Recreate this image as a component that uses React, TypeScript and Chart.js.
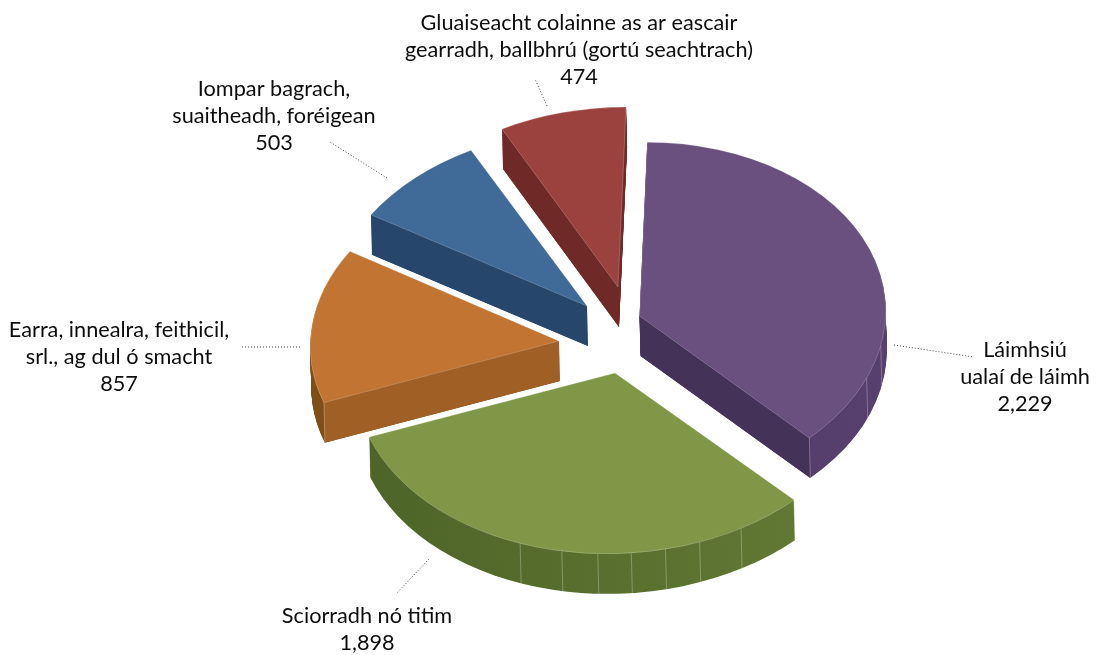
import React, { useEffect, useRef } from "react";
import { Chart, registerables } from "chart.js";

Chart.register(...registerables);

const categories = [
  ["Láimhsiú", "ualaí de láimh"],
  ["Sciorradh nó titim"],
  ["Earra, innealra, feithicil,", "srl., ag dul ó smacht"],
  ["Iompar bagrach,", "suaitheadh, foréigean"],
  ["Gluaiseacht colainne as ar eascair", "gearradh, ballbhrú (gortú seachtrach)"],
];
const values = [2229, 1898, 857, 503, 474];
const topColors = ["#69507F", "#7F9747", "#C27532", "#406A97", "#9B423F"];
const radialColors = ["#443259", "#4F6629", "#A05F24", "#27466B", "#6F2A27"];
const rimLeftColors = ["#4F3A64", "#4D6428", "#7F4D16", "#27466B", "#7A2E2B"];
const rimRightColors = ["#573F6E", "#657B36", "#8A5518", "#27466B", "#7A2E2B"];

const explodeX = [91, 66.5, 10.5, 38.5, 69.5];
const explodeY = [-11.5, 45.5, 13.5, -21.5, -40.5];
const sliceScale = [0.985, 1.04, 0.995, 1.028, 1.028];
const sliceFlatten = [0.705, 0.695, 0.7, 0.69, 0.7];
const SHEAR = -0.022;
const drawOrder = [3, 4, 2, 0, 1];
const facetDegrees = [
  [101.5, 112.7, 136.4],
  [151, 161, 168.8, 176.4, 183.8, 191.8, 201.4],
  [250.9],
  [],
  [],
];
const DEPTH = 40;
const DEPTH_DX = 1;
const ROTATION = 1.8;

const labelCenterX = [1025, 367, 119, 274, 579];
const labelFirstBaseline = [357, 623, 337, 96, 30];
const leaderLines = [
  [894, 345, 974, 357],
  [429, 559, 396, 594],
  [300, 347, 240, 347],
  [387, 178, 330, 142],
  [547, 106, 535, 79],
];
const FONT = '21.7px Lato, "Noto Sans", sans-serif';
const LINE_HEIGHT = 26.8;

const pie3d = {
  id: "pie3d",
  beforeDatasetsDraw(chart: any) {
    const ctx: CanvasRenderingContext2D = chart.ctx;
    const arcs = chart.getDatasetMeta(0).data;
    drawOrder.forEach((i) => {
      const arc = arcs[i];
      const s = sliceScale[i];
      const k = sliceFlatten[i];
      const ax = arc.x + explodeX[i];
      const ay = arc.y + explodeY[i];
      const R = arc.outerRadius;
      const pt = (a: number) => {
        const ux = s * R * Math.cos(a);
        return [ax + ux, ay + SHEAR * ux + s * k * R * Math.sin(a)];
      };
      const orig = arc.options;
      const place = (ox: number, oy: number) => {
        ctx.translate(ax + ox, ay + oy);
        ctx.transform(1, SHEAR, 0, 1, 0, 0);
        ctx.scale(s, s * k);
        ctx.translate(-arc.x, -arc.y);
      };
      // rim: the slice repeated downwards
      const grad = ctx.createLinearGradient(arc.x - R, 0, arc.x + R, 0);
      grad.addColorStop(0, rimLeftColors[i]);
      grad.addColorStop(1, rimRightColors[i]);
      arc.options = { ...orig, backgroundColor: grad, borderWidth: 0 };
      for (let d = DEPTH; d >= 1; d--) {
        ctx.save();
        place((DEPTH_DX * d) / DEPTH, d);
        arc.draw(ctx);
        ctx.restore();
      }
      arc.options = orig;
      // radial faces facing the viewer
      const face = (a: number) => {
        const [px, py] = pt(a);
        ctx.beginPath();
        ctx.moveTo(ax, ay);
        ctx.lineTo(px, py);
        ctx.lineTo(px + DEPTH_DX, py + DEPTH);
        ctx.lineTo(ax + DEPTH_DX, ay + DEPTH);
        ctx.closePath();
        ctx.fillStyle = radialColors[i];
        ctx.fill();
      };
      if (Math.cos(arc.startAngle) < 0) face(arc.startAngle);
      if (Math.cos(arc.endAngle) > 0) face(arc.endAngle);
      // rim facet lines
      ctx.strokeStyle = "rgba(255,255,255,0.28)";
      ctx.lineWidth = 1;
      facetDegrees[i].forEach((deg) => {
        const [px, py] = pt(((deg - 90) * Math.PI) / 180);
        ctx.beginPath();
        ctx.moveTo(px, py);
        ctx.lineTo(px + DEPTH_DX, py + DEPTH);
        ctx.stroke();
      });
      // top face
      ctx.save();
      place(0, 0);
      arc.draw(ctx);
      ctx.restore();
    });
    return false;
  },
  afterDraw(chart: any) {
    const ctx: CanvasRenderingContext2D = chart.ctx;
    ctx.save();
    leaderLines.forEach(([x0, y0, x1, y1]) => {
      ctx.beginPath();
      ctx.setLineDash([1, 2]);
      ctx.lineWidth = 1;
      ctx.strokeStyle = "#444444";
      ctx.moveTo(x0, y0);
      ctx.lineTo(x1, y1);
      ctx.stroke();
    });
    ctx.setLineDash([]);
    ctx.font = FONT;
    ctx.fillStyle = "#0d0d0d";
    ctx.textAlign = "center";
    ctx.textBaseline = "alphabetic";
    categories.forEach((lines, i) => {
      [...lines, values[i].toLocaleString("en-US")].forEach((t, j) => {
        ctx.fillText(t, labelCenterX[i], labelFirstBaseline[i] + j * LINE_HEIGHT);
      });
    });
    ctx.restore();
  },
};

export default function App() {
  const ref = useRef<HTMLCanvasElement>(null);
  useEffect(() => {
    const chart = new Chart(ref.current as HTMLCanvasElement, {
      type: "pie",
      data: {
        labels: categories.map((c) => c.join(" ")),
        datasets: [
          {
            data: values,
            backgroundColor: topColors,
            borderColor: "rgba(255,255,255,0.3)",
            borderWidth: 0.8,
          },
        ],
      },
      options: {
        responsive: false,
        animation: false,
        rotation: ROTATION,
        radius: 250,
        layout: { padding: 0 },
        plugins: { legend: { display: false }, tooltip: { enabled: false }, title: { display: false } },
      },
      plugins: [pie3d],
    } as any);
    return () => chart.destroy();
  }, []);
  return (
    <div style={{ position: "absolute", left: 0, top: 0, width: 1097, height: 655, background: "#fff" }}>
      <canvas ref={ref} width={1097} height={655} style={{ display: "block" }} />
    </div>
  );
}
